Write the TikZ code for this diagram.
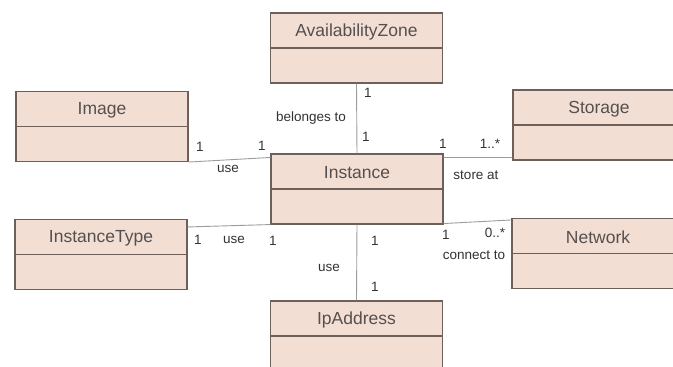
\documentclass[tikz,border=0pt]{standalone}
\usepackage{fontspec}
\setmainfont{Liberation Sans}
\usepackage{tikz}
\usetikzlibrary{
  calc,
  positioning}
\definecolor{classfill}{HTML}{F2DED3}
\definecolor{classline}{HTML}{6E5F58}
\definecolor{titlegray}{HTML}{555050}
\definecolor{linkgray}{HTML}{9C9C9C}
\tikzset{
  umlclass/.style={draw=classline,fill=classfill,line width=1.1pt,
    minimum width=172pt,minimum height=70pt,inner sep=0pt},
  classname/.style={text=titlegray,font=\fontsize{17.5}{19}\selectfont,inner sep=0pt},
  divider/.style={draw=classline,line width=1.1pt},
  link/.style={draw=linkgray,line width=0.9pt},
  mult/.style={text=black!80,font=\fontsize{13.5}{15}\selectfont,inner sep=0pt}
}

\begin{document}
\begin{tikzpicture}[x=1pt,y=-1pt]
            \path[use as bounding box,clip] (0,0) rectangle (673,367);
            \fill[white] (0,0) rectangle (673,367);

            \node[umlclass] (az) at (356.5,48) {};
            \node[umlclass] (img) at (102,126.5) {};
            \node[umlclass] (st) at (599,125) {};
            \node[umlclass] (inst) at (357,189) {};
            \node[umlclass] (itype) at (101,254.5) {};
            \node[umlclass] (net) at (598,253.5) {};
            \node[umlclass] (ip) at (356.5,336) {};

            \node[classname] (az-name) at ($(az.north)!0.55!(az.center)$) {AvailabilityZone};
            \node[classname] (img-name) at ($(img.north)!0.55!(img.center)$) {Image};
            \node[classname] (st-name) at ($(st.north)!0.55!(st.center)$) {Storage};
            \node[classname] (inst-name) at ($(inst.north)!0.55!(inst.center)$) {Instance};
            \node[classname] (itype-name) at ($(itype.north)!0.55!(itype.center)$) {InstanceType};
            \node[classname] (net-name) at ($(net.north)!0.55!(net.center)$) {Network};
            \node[classname] (ip-name) at ($(ip.north)!0.55!(ip.center)$) {IpAddress};

            \draw[divider] (az.west)--(az.east);
            \draw[divider] (img.west)--(img.east);
            \draw[divider] (st.west)--(st.east);
            \draw[divider] (inst.west)--(inst.east);
            \draw[divider] (itype.west)--(itype.east);
            \draw[divider] (net.west)--(net.east);
            \draw[divider] (ip.west)--(ip.east);

            \draw[link] (img.south east)--([yshift=-4pt]inst.north west);
            \draw[link] (az.south)--(inst.north);
            \draw[link] ([yshift=-4pt]inst.north east)--([yshift=3pt]st.south west);
            \draw[link] ([yshift=-8pt]itype.north east)--(inst.south west);
            \draw[link] ([yshift=1pt]inst.south east)--([yshift=-2pt]net.north west);
            \draw[link] (inst.south)--(ip.north);

            \node[mult] (img-m1) at (200,147) {1};
            \node[mult] (img-m2) at (262,146) {1};
            \node[mult] (img-use) at (228,169) {use};
            \node[mult] (az-m1) at (368,93) {1};
            \node[mult] (az-m2) at (366,137) {1};
            \node[mult] (az-rel) at (311,118) {belonges to};
            \node[mult] (st-m1) at (443,144) {1};
            \node[mult] (st-m2) at (490,144) {1..*};
            \node[mult] (st-rel) at (476,175) {store at};
            \node[mult] (itype-m1) at (198,240) {1};
            \node[mult] (itype-use) at (234,240) {use};
            \node[mult] (itype-m2) at (273,241) {1};
            \node[mult] (ip-m1) at (375,241) {1};
            \node[mult] (ip-m2) at (375,287) {1};
            \node[mult] (ip-use) at (329,268) {use};
            \node[mult] (net-m1) at (446,235) {1};
            \node[mult] (net-m2) at (495,233) {0..*};
            \node[mult] (net-rel) at (474,255) {connect to};
        \end{tikzpicture}
\end{document}
